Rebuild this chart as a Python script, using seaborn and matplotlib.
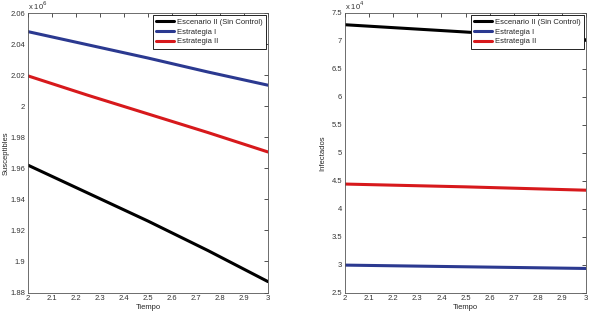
import numpy as np
import pandas as pd
import matplotlib
matplotlib.use("Agg")
import matplotlib.pyplot as plt
import seaborn as sns
from matplotlib.ticker import FuncFormatter, MultipleLocator

# tiempo
tiempo = [2.0, 2.25, 2.5, 2.75, 3.0]

# Susceptibles (x 10^6)
sus_sin_control = [1.962, 1.944, 1.926, 1.907, 1.887]
sus_estrategia1 = [2.048, 2.0395, 2.031, 2.022, 2.0135]
sus_estrategia2 = [2.0195, 2.007, 1.995, 1.983, 1.9705]

# Infectados (x 10^4)
inf_sin_control = [7.29, 7.225, 7.16, 7.09, 7.02]
inf_estrategia1 = [2.99, 2.975, 2.96, 2.945, 2.93]
inf_estrategia2 = [4.44, 4.415, 4.39, 4.36, 4.33]

series = ["Escenario II (Sin Control)", "Estrategia I", "Estrategia II"]
colores = ["#000000", "#2b3990", "#d7191c"]

sns.set_style("white")
plt.rcParams["font.family"] = ["Liberation Sans", "DejaVu Sans"]
plt.rcParams["font.size"] = 5.5

fig = plt.figure(figsize=(5.89, 3.12), dpi=100)
ax1 = fig.add_axes([28 / 589, 1 - 292.5 / 312, 240 / 589, 279.5 / 312])
ax2 = fig.add_axes([345 / 589, 1 - 292.5 / 312, 241 / 589, 279.5 / 312])


def armar(datos):
    filas = []
    for nombre, vals in zip(series, datos):
        for t, v in zip(tiempo, vals):
            filas.append({"Tiempo": t, "valor": v, "serie": nombre})
    return pd.DataFrame(filas)


df_s = armar([sus_sin_control, sus_estrategia1, sus_estrategia2])
df_i = armar([inf_sin_control, inf_estrategia1, inf_estrategia2])

fmt = FuncFormatter(lambda v, p: "{:g}".format(round(v, 4)))

for ax, df, ylab, lims, paso, expo in [
    (ax1, df_s, "Susceptibles", (1.88, 2.06), 0.02, "6"),
    (ax2, df_i, "Infectados", (2.5, 7.5), 0.5, "4"),
]:
    sns.lineplot(data=df, x="Tiempo", y="valor", hue="serie", palette=colores,
                 hue_order=series, linewidth=2.2, ax=ax, legend=True)
    ax.set_xlim(2, 3)
    ax.set_ylim(*lims)
    ax.xaxis.set_major_locator(MultipleLocator(0.1))
    ax.yaxis.set_major_locator(MultipleLocator(paso))
    ax.xaxis.set_major_formatter(fmt)
    ax.yaxis.set_major_formatter(fmt)
    ax.tick_params(direction="in", length=3, width=0.6, labelsize=5.5,
                   top=True, right=True, pad=2, colors="#333333")
    for s in ax.spines.values():
        s.set_linewidth(0.6)
        s.set_color("#555555")
    ax.set_xlabel("Tiempo", fontsize=5.5, labelpad=1)
    ax.set_ylabel(ylab, fontsize=5.5)
    ax.yaxis.set_label_coords(-0.078, 0.5)
    ax.text(0.0, 1.005, "x 10$^{" + expo + "}$", transform=ax.transAxes,
            fontsize=5.5, va="bottom", ha="left", color="#333333")
    leg = ax.legend(loc="upper right", fontsize=5.5, frameon=True, fancybox=False,
                    edgecolor="black", framealpha=1, handlelength=2.4,
                    borderaxespad=0.3, labelspacing=0.3, borderpad=0.45,
                    handletextpad=0.3)
    leg.get_frame().set_linewidth(0.6)

fig.savefig("out.png", dpi=100)
